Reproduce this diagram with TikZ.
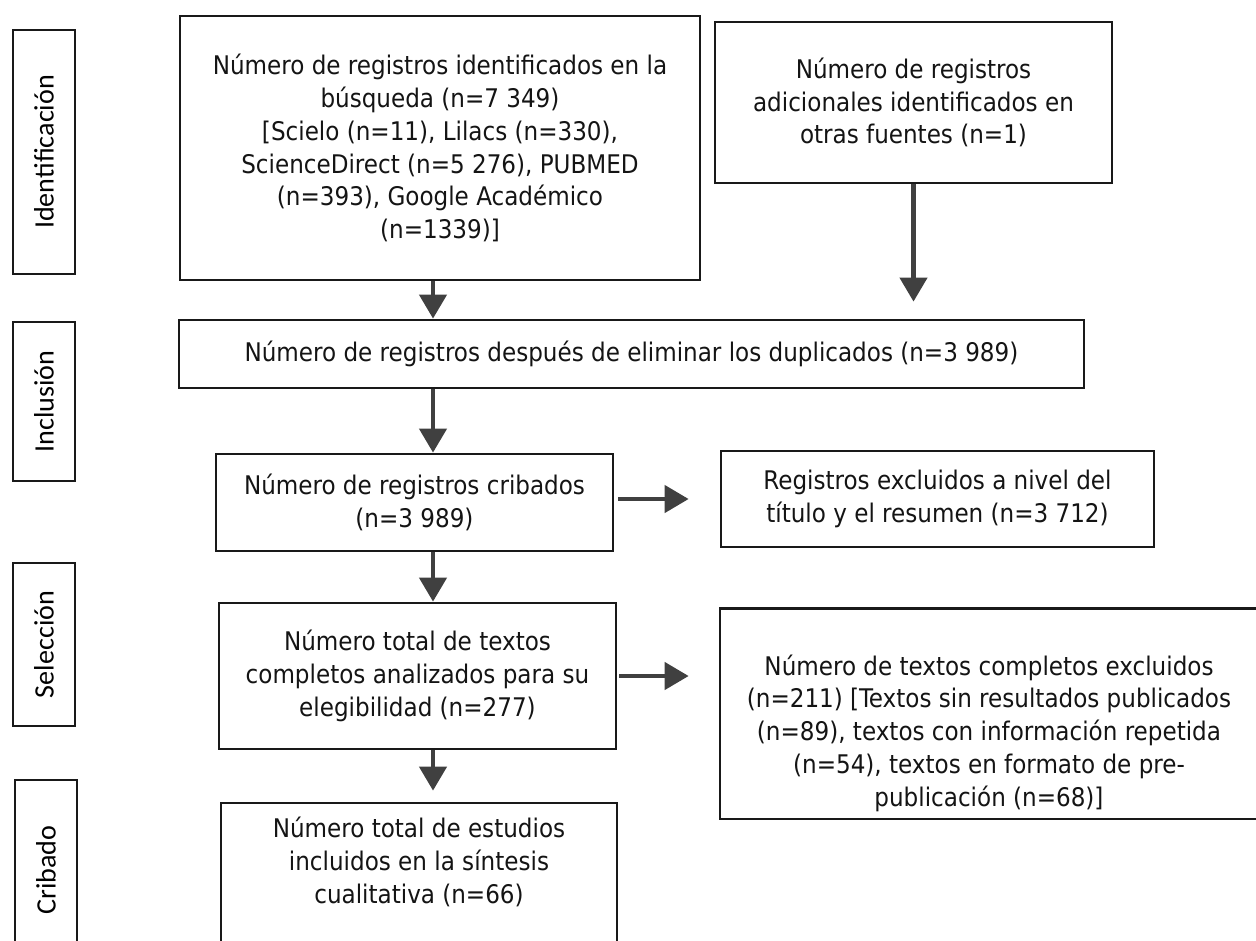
\documentclass[tikz,border=0pt]{standalone}
\usepackage{fontspec}
\setmainfont{DejaVu Sans Condensed}
\newfontfamily\sidefont{Carlito}
\usetikzlibrary{arrows.meta}

\begin{document}
\begin{tikzpicture}[
    x=0.02cm, y=-0.02cm,
    box/.style={draw=black!90, line width=1.6pt, align=center,
                inner sep=4pt, text=black!92,
                font=\fontsize{14.6}{18.7}\selectfont},
    phase/.style={draw=black!90, line width=1.6pt, rotate=90,
                  inner sep=2pt, font=\sidefont\fontsize{16}{18}\selectfont},
    arr/.style={-{Triangle[width=0.54cm,length=0.48cm]}, line width=2.5pt, black!75},
]

\useasboundingbox (0,0) rectangle (1256,940);

% --- Phase labels (left) ---
\node[phase, minimum width=4.88cm, minimum height=1.24cm]
    (phId) at (44, 152) {Identificación};
\node[phase, minimum width=3.18cm, minimum height=1.24cm]
    (phIn) at (44, 401.5) {Inclusión};
\node[phase, minimum width=3.26cm, minimum height=1.24cm]
    (phSe) at (44, 644.5) {Selección};
\node[phase, minimum width=3.6cm, minimum height=1.24cm]
    (phCr) at (46, 870) {Cribado};

% --- Identification ---
\node[box, minimum width=10.4cm, minimum height=5.28cm]
    (idA) at (440, 148)
    {Número de registros identificados en la\\
     búsqueda (n=7 349)\\
     {[}Scielo (n=11), Lilacs (n=330),\\
     ScienceDirect (n=5 276), PUBMED\\
     (n=393), Google Académico\\
     (n=1339)]};
\node[box, minimum width=7.94cm, minimum height=3.22cm]
    (idB) at (913.5, 102.5)
    {Número de registros\\
     adicionales identificados en\\
     otras fuentes (n=1)};

% --- Inclusion ---
\node[box, minimum width=18.1cm, minimum height=1.36cm]
    (dup) at (631.5, 354)
    {Número de registros después de eliminar los duplicados (n=3 989)};

% --- Screening ---
\node[box, minimum width=7.94cm, minimum height=1.94cm]
    (crib) at (414.5, 502.5)
    {Número de registros cribados\\ (n=3 989)};
\node[box, minimum width=8.66cm, minimum height=1.92cm]
    (excl) at (937.5, 499)
    {Registros excluidos a nivel del\\ título y el resumen (n=3 712)};

% --- Selection ---
\node[box, minimum width=7.94cm, minimum height=2.92cm]
    (full) at (417.5, 676)
    {Número total de textos\\
     completos analizados para su\\
     elegibilidad (n=277)};
\node[box, minimum width=10.76cm, minimum height=4.06cm]
    (exclfull) at (989, 713.5)
    {\rule{0pt}{1.2cm}Número de textos completos excluidos\\
     (n=211) [Textos sin resultados publicados\\
     (n=89), textos con información repetida\\
     (n=54), textos en formato de pre-\\
     publicación (n=68)]};

% --- Included ---
\node[box, minimum width=7.92cm, minimum height=3.14cm]
    (incl) at (419, 881.5)
    {Número total de estudios\\
     incluidos en la síntesis\\
     cualitativa (n=66)\rule[-0.86cm]{0pt}{0.86cm}};

% Connectors
\coordinate (spine) at (433, 0);
\draw[arr] (idA.south -| spine) -- (dup.north -| spine);
\draw[arr, shorten >=0.34cm] (idB.south) -- (idB.south |- dup.north);
\draw[arr] (dup.south -| spine) -- (crib.north -| spine);
\draw[arr, shorten <=0.08cm, shorten >=0.62cm] (crib.east |- excl.west) -- (excl.west);
\draw[arr] (crib.south -| spine) -- (full.north -| spine);
\draw[arr, shorten <=0.04cm, shorten >=0.6cm] (full.east) -- (full.east -| exclfull.west);
\draw[arr, shorten >=0.22cm] (full.south -| spine) -- (incl.north -| spine);

\end{tikzpicture}
\end{document}
